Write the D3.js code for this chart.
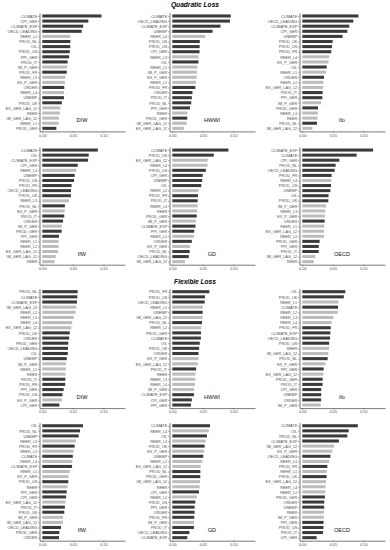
<!DOCTYPE html>
<html>
<head>
<meta charset="utf-8">
<script src="https://cdn.jsdelivr.net/npm/d3@7"></script>
<style>
  body { margin: 0; background: #fff; }
  svg text { font-family: "Liberation Sans", Arial, sans-serif; }
</style>
</head>
<body>
<div id="chart"></div>
<script>
// chart size
const width = 390;
const height = 550;

// variables drawn in light grey (exchange rate / trade group)
const lightVars = ["REER", "REER_L1", "REER_L2", "REER_L3", "REER_L4",
  "EX_P_GER", "IM_P_GER", "EX_GER_LAG_12", "IM_GER_LAG_12"];

// x ticks
const xTicks = [0, 0.05, 0.10];

// Quadratic loss
const quadDIWVars = ["CLIMATE","CPI_GER","CLIMATE_EXP","OECD_LEADING","REER_L2","PROD_NL","OIL","PROD_US","PPI_GER","PROD_IT","IM_P_GER","PROD_FR","REER_L3","EX_P_GER","ORDER","REER_L4","UNEMP","PROD_UK","EX_GER_LAG_12","REER","IM_GER_LAG_12","REER_L1","PROD_GER"];
const quadDIWVals = [0.097,0.0754,0.067,0.0645,0.046,0.046,0.0458,0.045,0.044,0.0415,0.041,0.040,0.0377,0.037,0.036,0.0355,0.0355,0.032,0.0295,0.029,0.027,0.0268,0.023];

const quadHWWIVars = ["CLIMATE","OECD_LEADING","CLIMATE_EXP","UNEMP","REER_L4","PROD_UK","PROD_US","CPI_GER","REER_L3","OIL","REER_L1","IM_P_GER","EX_P_GER","REER_L2","PROD_FR","ORDER","PROD_IT","PROD_NL","PPI_GER","REER","PROD_GER","IM_GER_LAG_12","EX_GER_LAG_12"];
const quadHWWIVals = [0.0957,0.0945,0.079,0.066,0.054,0.045,0.0448,0.0446,0.043,0.0428,0.041,0.0405,0.040,0.0388,0.0377,0.033,0.032,0.031,0.029,0.0246,0.0244,0.0235,0.019];

const quadIfoVars = ["CLIMATE","OECD_LEADING","CLIMATE_EXP","CPI_GER","UNEMP","PROD_UK","PROD_US","PROD_FR","REER_L4","EX_P_GER","OIL","REER_L1","ORDER","REER_L2","EX_GER_LAG_12","PROD_IT","PPI_GER","IM_P_GER","PROD_GER","REER_L3","REER","PROD_NL","IM_GER_LAG_12"];
const quadIfoVals = [0.092,0.0836,0.077,0.0738,0.066,0.0497,0.0486,0.0475,0.044,0.043,0.040,0.0388,0.0355,0.0344,0.034,0.0333,0.0328,0.0306,0.0257,0.0256,0.025,0.024,0.0164];

const quadIfWVars = ["CLIMATE","OIL","CLIMATE_EXP","CPI_GER","REER_L4","UNEMP","PROD_US","PROD_FR","OECD_LEADING","PROD_UK","REER_L3","PROD_NL","EX_P_GER","PROD_IT","ORDER","IM_P_GER","PROD_GER","PPI_GER","REER_L1","REER_L2","EX_GER_LAG_12","IM_GER_LAG_12","REER"];
const quadIfWVals = [0.091,0.076,0.075,0.058,0.0557,0.053,0.052,0.048,0.047,0.0468,0.0437,0.037,0.0366,0.036,0.034,0.032,0.0317,0.0273,0.0268,0.0267,0.026,0.022,0.020];

const quadGDVars = ["CLIMATE","PROD_UK","EX_GER_LAG_12","REER_L4","PROD_US","CPI_GER","UNEMP","OIL","REER_L2","PROD_FR","PROD_IT","REER_L3","REER","PROD_GER","IM_P_GER","CLIMATE_EXP","PPI_GER","REER_L1","ORDER","EX_P_GER","PROD_NL","OECD_LEADING","IM_GER_LAG_12"];
const quadGDVals = [0.092,0.068,0.058,0.0578,0.055,0.0497,0.049,0.0475,0.043,0.042,0.0415,0.0414,0.041,0.040,0.0388,0.038,0.036,0.0355,0.032,0.029,0.0284,0.027,0.0208];

const quadOECDVars = ["CLIMATE_EXP","CLIMATE","CPI_GER","PROD_NL","OECD_LEADING","PROD_FR","REER_L4","PROD_US","UNEMP","OIL","PROD_UK","IM_P_GER","REER_L3","EX_P_GER","ORDER","REER_L1","EX_GER_LAG_12","REER_L2","PROD_GER","PPI_GER","PROD_IT","IM_GER_LAG_12","REER"];
const quadOECDVals = [0.116,0.089,0.0607,0.0546,0.053,0.048,0.0475,0.047,0.046,0.043,0.0426,0.0388,0.0377,0.037,0.0366,0.036,0.0355,0.0354,0.0284,0.027,0.0268,0.0213,0.019];

// Flexible loss
const flexDIWVars = ["PROD_NL","CLIMATE","CLIMATE_EXP","IM_GER_LAG_12","REER_L2","REER_L3","REER_L4","EX_GER_LAG_12","PROD_UK","ORDER","PROD_GER","OECD_LEADING","OIL","UNEMP","IM_P_GER","REER_L1","REER","PROD_IT","PROD_FR","PPI_GER","PROD_US","EX_P_GER","CPI_GER"];
const flexDIWVals = [0.058,0.0574,0.0568,0.0557,0.0546,0.0514,0.049,0.0475,0.045,0.044,0.0426,0.042,0.0418,0.040,0.039,0.0388,0.038,0.0378,0.0375,0.035,0.033,0.032,0.028];

const flexHWWIVars = ["PROD_FR","PROD_US","OECD_LEADING","REER_L1","UNEMP","IM_GER_LAG_12","PROD_NL","REER_L2","PROD_GER","CLIMATE","OIL","PROD_UK","ORDER","EX_P_GER","EX_GER_LAG_12","PROD_IT","REER","REER_L3","REER_L4","IM_P_GER","CLIMATE_EXP","CPI_GER","PPI_GER"];
const flexHWWIVals = [0.0607,0.0535,0.053,0.050,0.0497,0.0495,0.0486,0.0475,0.047,0.0468,0.045,0.044,0.043,0.0428,0.042,0.039,0.038,0.0377,0.037,0.0355,0.0354,0.032,0.0306];

const flexIfoVars = ["OIL","PROD_UK","REER_L1","CLIMATE","REER_L2","REER_L3","REER_L4","PROD_FR","CLIMATE_EXP","OECD_LEADING","PROD_US","REER","IM_GER_LAG_12","PROD_NL","EX_P_GER","PPI_GER","EX_GER_LAG_12","PROD_GER","PROD_IT","CPI_GER","UNEMP","ORDER","IM_P_GER"];
const flexIfoVals = [0.0705,0.068,0.059,0.0585,0.058,0.051,0.048,0.0465,0.046,0.0454,0.044,0.0437,0.0426,0.0415,0.038,0.035,0.0344,0.0333,0.0332,0.031,0.031,0.0308,0.030];

const flexIfWVars = ["OIL","PROD_NL","UNEMP","REER_L3","PROD_FR","REER_L2","CLIMATE","REER_L4","CLIMATE_EXP","REER_L1","EX_P_GER","PROD_US","REER","PPI_GER","CPI_GER","EX_GER_LAG_12","PROD_IT","PROD_UK","IM_P_GER","IM_GER_LAG_12","OECD_LEADING","PROD_GER","ORDER"];
const flexIfWVals = [0.0667,0.0617,0.0596,0.055,0.053,0.0514,0.050,0.049,0.0488,0.045,0.043,0.0426,0.0415,0.040,0.039,0.038,0.037,0.036,0.034,0.0338,0.0306,0.028,0.0273];

const flexGDVars = ["CLIMATE","REER_L4","OIL","REER_L3","PROD_UK","EX_P_GER","UNEMP","REER_L2","EX_GER_LAG_12","PROD_NL","PROD_GER","IM_GER_LAG_12","REER","CPI_GER","REER_L1","PROD_US","PPI_GER","ORDER","PROD_FR","IM_P_GER","PROD_IT","OECD_LEADING","CLIMATE_EXP"];
const flexGDVals = [0.0617,0.0596,0.0568,0.0546,0.053,0.052,0.0508,0.049,0.0465,0.046,0.0458,0.0454,0.0448,0.0437,0.040,0.0377,0.0366,0.0365,0.036,0.0355,0.0354,0.028,0.0246];

const flexOECDVars = ["CLIMATE","OIL","PROD_NL","CLIMATE_EXP","IM_GER_LAG_12","EX_P_GER","OECD_LEADING","REER_L3","PROD_FR","REER_L1","PROD_UK","EX_GER_LAG_12","REER_L4","REER_L2","PROD_GER","ORDER","UNEMP","REER","IM_P_GER","PPI_GER","PROD_US","PROD_IT","CPI_GER"];
const flexOECDVals = [0.091,0.076,0.0738,0.060,0.052,0.049,0.046,0.044,0.041,0.040,0.0398,0.0388,0.038,0.0378,0.037,0.036,0.0358,0.0355,0.035,0.0348,0.0346,0.034,0.0235];

// panel list: [institute name, variables, values, column, row]
const panels = [
  ["DIW", quadDIWVars, quadDIWVals, 0, 0],
  ["HWWI", quadHWWIVars, quadHWWIVals, 1, 0],
  ["ifo", quadIfoVars, quadIfoVals, 2, 0],
  ["IfW", quadIfWVars, quadIfWVals, 0, 1],
  ["GD", quadGDVars, quadGDVals, 1, 1],
  ["OECD", quadOECDVars, quadOECDVals, 2, 1],
  ["DIW", flexDIWVars, flexDIWVals, 0, 2],
  ["HWWI", flexHWWIVars, flexHWWIVals, 1, 2],
  ["ifo", flexIfoVars, flexIfoVals, 2, 2],
  ["IfW", flexIfWVars, flexIfWVals, 0, 3],
  ["GD", flexGDVars, flexGDVals, 1, 3],
  ["OECD", flexOECDVars, flexOECDVals, 2, 3]
];

// layout of the grid
const colX = [0, 130, 260];
const rowY = [[12.9, 131.4], [147, 264.7], [288.6, 408.1], [422.7, 540.7]];
const titles = [{text: "Quadratic Loss", y: 5.5}, {text: "Flexible Loss", y: 282}];

const dark = "#3b3b3b";
const light = "#bcbcbc";

const svg = d3.select("#chart")
  .append("svg")
  .attr("width", width)
  .attr("height", height)
  .attr("viewBox", [0, 0, width, height]);

// section titles
svg.selectAll(".title")
  .data(titles)
  .enter()
  .append("text")
    .attr("class", "title")
    .attr("x", 195)
    .attr("y", d => d.y)
    .attr("text-anchor", "middle")
    .attr("dominant-baseline", "middle")
    .attr("font-size", "6.6px")
    .attr("font-weight", "bold")
    .attr("font-style", "italic")
    .attr("fill", "#000")
    .text(d => d.text);

// x scale is the same for every panel
const xScale = d3.scaleLinear()
  .domain([-0.0046, 0.1355])
  .range([39.5, 125]);

panels.forEach(([name, vars, vals, col, row]) => {
  const data = vars.map((v, i) => ({name: v, value: vals[i]}));

  const g = svg.append("g")
    .attr("transform", `translate(${colX[col]},0)`);

  const yScale = d3.scalePoint()
    .domain(vars)
    .range(rowY[row])
    .padding(0.6);

  const barH = yScale.step() * 0.6;

  // bars
  g.selectAll(".bar")
    .data(data)
    .enter()
    .append("rect")
      .attr("class", "bar")
      .attr("x", xScale(0))
      .attr("y", d => yScale(d.name) - barH / 2)
      .attr("width", d => xScale(d.value) - xScale(0))
      .attr("height", barH)
      .attr("fill", d => lightVars.includes(d.name) ? light : dark);

  // y axis
  const yAxis = g.append("g")
    .attr("transform", `translate(${xScale.range()[0]},0)`)
    .call(d3.axisLeft(yScale).tickSize(1.5).tickPadding(0.8).tickSizeOuter(0));

  // x axis
  const xAxis = g.append("g")
    .attr("transform", `translate(0,${rowY[row][1]})`)
    .call(d3.axisBottom(xScale).tickValues(xTicks).tickFormat(d3.format(".2f"))
      .tickSize(1.5).tickPadding(1).tickSizeOuter(0));

  [yAxis, xAxis].forEach(a => {
    a.attr("font-size", "3.8px")
     .attr("font-family", "Liberation Sans, Arial, sans-serif");
    a.select(".domain").attr("stroke", "#222").attr("stroke-width", 0.6);
    a.selectAll(".tick line").attr("stroke", "#333").attr("stroke-width", 0.4);
    a.selectAll(".tick text").attr("fill", "#4d4d4d");
  });

  // institute label
  g.append("text")
    .attr("x", xScale(0.065))
    .attr("y", yScale(vars[20]) + yScale.step() * 0.5)
    .attr("text-anchor", "middle")
    .attr("dominant-baseline", "middle")
    .attr("font-size", "5.6px")
    .attr("fill", "#111")
    .text(name);
});
</script>
</body>
</html>
